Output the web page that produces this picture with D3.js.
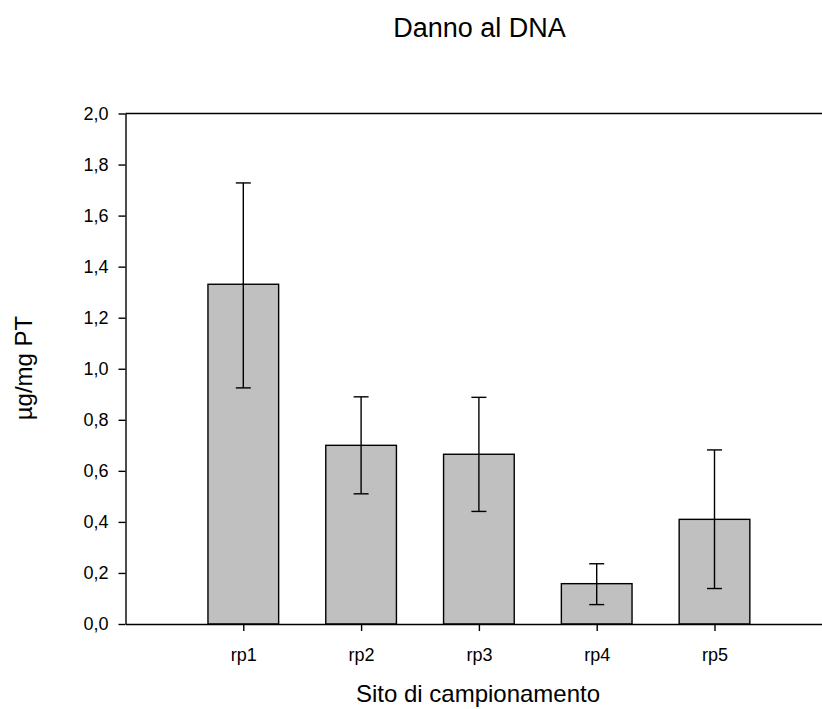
<!DOCTYPE html>
<html>
<head>
<meta charset="utf-8">
<script src="https://cdn.jsdelivr.net/npm/d3@7"></script>
<style>
  body { margin: 0; background: #fff; }
  svg { display: block; font-family: Arial, "Liberation Sans", sans-serif; }
  .axis path, .axis line { stroke: #000; stroke-width: 1.4; }
  .axis text { fill: #000; }
</style>
</head>
<body>
<div id="chart"></div>
<script>
// -----
// DANNO AL DNA - bar chart with error bars
// -----

const sites = ["rp1", "rp2", "rp3", "rp4", "rp5"];
const means = [1.331, 0.700, 0.665, 0.158, 0.410];
const errUpper = [1.728, 0.890, 0.888, 0.236, 0.682];
const errLower = [0.925, 0.510, 0.441, 0.076, 0.139];
const yTicks = [0, 0.2, 0.4, 0.6, 0.8, 1.0, 1.2, 1.4, 1.6, 1.8, 2.0];

const width = 822, height = 709;
const plotLeft = 125.5, plotTop = 113.5, plotBottom = 624;

const svg = d3.select("#chart").append("svg")
    .attr("width", width)
    .attr("height", height);

// x positions 1..5, axis runs 0..6 (right side cut by the window)
const xScale = d3.scaleLinear().domain([0, 6]).range([plotLeft, plotLeft + 6 * 117.8]);
const yScale = d3.scaleLinear().domain([0, 2]).range([plotBottom, plotTop]);
const barW = xScale(0.6) - xScale(0);

const data = sites.map((s, i) => ({ site: s, pos: i + 1, mean: means[i], hi: errUpper[i], lo: errLower[i] }));

// bars
svg.append("g")
    .selectAll("rect")
    .data(data)
    .join("rect")
    .attr("x", d => xScale(d.pos) - barW / 2)
    .attr("y", d => yScale(d.mean))
    .attr("width", barW)
    .attr("height", d => yScale(0) - yScale(d.mean))
    .attr("fill", "#c0c0c0")
    .attr("stroke", "#000")
    .attr("stroke-width", 1.4);

// error bars
const err = svg.append("g")
    .attr("stroke", "#000")
    .attr("stroke-width", 1.4);
err.selectAll(".whisker")
    .data(data)
    .join("line")
    .attr("class", "whisker")
    .attr("x1", d => xScale(d.pos))
    .attr("x2", d => xScale(d.pos))
    .attr("y1", d => yScale(d.hi))
    .attr("y2", d => yScale(d.lo));
["hi", "lo"].forEach(k => {
    err.selectAll(".cap-" + k)
        .data(data)
        .join("line")
        .attr("class", "cap-" + k)
        .attr("x1", d => xScale(d.pos) - 7.5)
        .attr("x2", d => xScale(d.pos) + 7.5)
        .attr("y1", d => yScale(d[k]))
        .attr("y2", d => yScale(d[k]));
});

// top frame line
svg.append("line")
    .attr("x1", plotLeft).attr("x2", width)
    .attr("y1", plotTop).attr("y2", plotTop)
    .attr("stroke", "#000").attr("stroke-width", 1.4);

// axes
svg.append("g")
    .attr("class", "axis")
    .attr("transform", `translate(${plotLeft},0)`)
    .call(d3.axisLeft(yScale)
        .tickValues(yTicks)
        .tickSize(7)
        .tickSizeOuter(0)
        .tickPadding(10)
        .tickFormat(d => d3.format(".1f")(d).replace(".", ",")))
    .call(g => g.selectAll("text").style("font-size", "18px"));

svg.append("g")
    .attr("class", "axis")
    .attr("transform", `translate(0,${plotBottom})`)
    .call(d3.axisBottom(xScale)
        .tickValues(data.map(d => d.pos))
        .tickSize(7)
        .tickSizeOuter(0)
        .tickPadding(17)
        .tickFormat((d, i) => sites[i]))
    .call(g => g.selectAll("text").style("font-size", "18px"));

// titles
svg.append("text")
    .attr("x", 479.5).attr("y", 37)
    .attr("text-anchor", "middle")
    .style("font-size", "27px")
    .text("Danno al DNA");

svg.append("text")
    .attr("x", 478).attr("y", 702)
    .attr("text-anchor", "middle")
    .style("font-size", "24px")
    .text("Sito di campionamento");

svg.append("text")
    .attr("transform", `translate(32,368) rotate(-90)`)
    .attr("text-anchor", "middle")
    .style("font-size", "24px")
    .text("µg/mg PT");
</script>
</body>
</html>
